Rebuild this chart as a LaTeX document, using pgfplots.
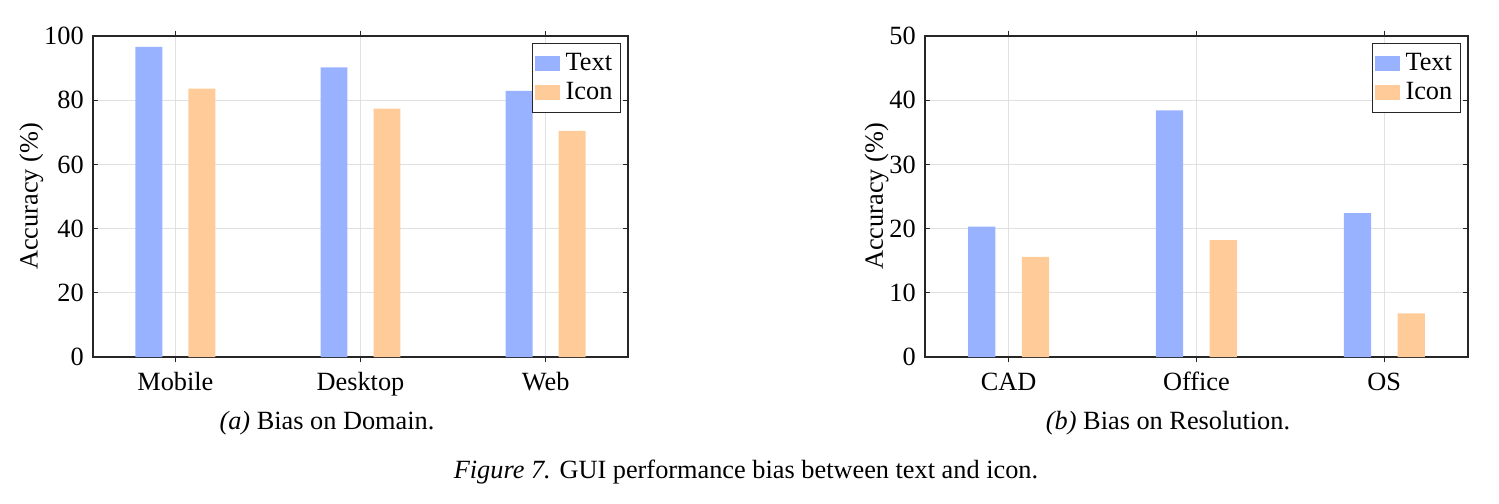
\documentclass[border=0pt]{standalone}
\usepackage{fontspec}
\setmainfont{Liberation Serif}
\usepackage{pgfplots}
\pgfplotsset{compat=1.18}

\definecolor{textbar}{RGB}{153,178,255}
\definecolor{iconbar}{RGB}{255,204,153}
\definecolor{axisgray}{RGB}{38,38,38}
\definecolor{gridgray}{RGB}{225,225,225}

\pgfplotsset{
  biasaxis/.style={
    scale only axis,
    height=122pt,
    ymin=0,
    xmin=-0.445, xmax=2.445,
    xtick={0,1,2},
    tick align=inside,
    tick pos=both,
    major tick length=2pt,
    every tick/.style={axisgray, line width=0.5pt},
    axis line style={axisgray, line width=0.6pt},
    grid=major,
    grid style={gridgray, line width=0.4pt},
    ytick style={axisgray},
    ylabel={Accuracy (\%)},
    ylabel style={font=\fontsize{10}{12}\selectfont, yshift=-6.5pt},
    tick label style={font=\fontsize{10}{12}\selectfont},
    xticklabel style={text height=1.6ex, text depth=0.25ex},
    /pgf/number format/assume math mode=true,
    ybar,
    bar shift=0pt,
    bar width=0.145,
    legend style={
      at={(0.987,0.978)}, anchor=north east,
      draw=axisgray, line width=0.5pt,
      font=\fontsize{10}{12}\selectfont,
      inner xsep=1pt, inner ysep=1.5pt,
      row sep=-1pt,
      legend cell align=left,
    },
    legend image code/.code={
      \fill[##1] (0pt,-2.7pt) rectangle (9.5pt,2.7pt);
    },
  },
}

\begin{document}
\begin{tikzpicture}[x=0.38pt, y=-0.38pt]
  \path (0,0) rectangle (1499,503);
  \coordinate (leftorigin) at (93,357);
  \coordinate (rightorigin) at (925,357);

  % (a) accuracy by domain
  \begin{axis}[biasaxis,
      at={(leftorigin)}, anchor=south west,
      width=203.3pt,
      ymax=100, ytick={0,20,40,60,80,100},
      xticklabels={Mobile,Desktop,Web}]
    \addplot[fill=textbar, draw=none] coordinates {(-0.143,96.6) (0.857,90.2) (1.857,82.9)};
    \addplot[fill=iconbar, draw=none] coordinates {(0.143,83.6) (1.143,77.4) (2.143,70.4)};
    \legend{Text,Icon}
  \end{axis}

  % (b) accuracy by resolution
  \begin{axis}[biasaxis,
      at={(rightorigin)}, anchor=south west,
      width=206.3pt,
      ymax=50, ytick={0,10,20,30,40,50},
      xticklabels={CAD,Office,OS}]
    \addplot[fill=textbar, draw=none] coordinates {(-0.143,20.3) (0.857,38.4) (1.857,22.4)};
    \addplot[fill=iconbar, draw=none] coordinates {(0.143,15.6) (1.143,18.2) (2.143,6.8)};
    \legend{Text,Icon}
  \end{axis}

  \node[font=\fontsize{10}{12}\selectfont] at (327,423) {\textit{(a)} Bias on Domain.};
  \node[font=\fontsize{10}{12}\selectfont] at (1168,423) {\textit{(b)} Bias on Resolution.};
  \node[font=\fontsize{10}{12}\selectfont] at (746,472) {\textit{Figure 7.} GUI performance bias between text and icon.};
\end{tikzpicture}
\end{document}
